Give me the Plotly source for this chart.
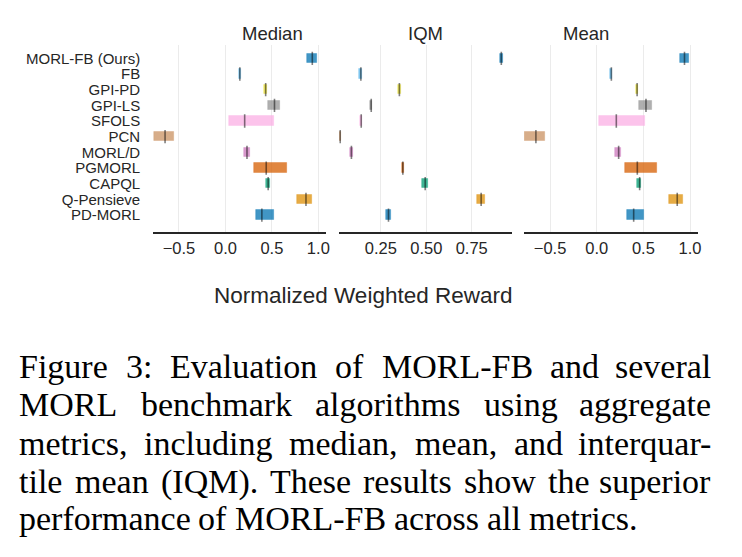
import plotly.graph_objects as go
from plotly.subplots import make_subplots

# algorithms, top to bottom
algos = ["MORL-FB (Ours)", "FB", "GPI-PD", "GPI-LS", "SFOLS", "PCN",
         "MORL/D", "PGMORL", "CAPQL", "Q-Pensieve", "PD-MORL"]
colors = ["#0173b2", "#56b4e9", "#ece133", "#949494", "#fbafe4", "#ca9161",
          "#cc78bc", "#d55e00", "#029e73", "#de8f05", "#0173b2"]

# median: point estimate and interval
median_pt = [0.935, 0.155, 0.433, 0.528, 0.207, -0.650, 0.232, 0.439, 0.460, 0.867, 0.392]
median_lo = [0.885, 0.143, 0.420, 0.456, 0.035, -0.768, 0.203, 0.310, 0.442, 0.777, 0.332]
median_hi = [0.991, 0.168, 0.450, 0.592, 0.528, -0.553, 0.268, 0.660, 0.482, 0.935, 0.520]

# IQM
iqm_pt = [0.913, 0.140, 0.352, 0.197, 0.142, 0.026, 0.088, 0.371, 0.494, 0.802, 0.292]
iqm_lo = [0.904, 0.133, 0.345, 0.193, 0.137, 0.022, 0.082, 0.365, 0.476, 0.782, 0.279]
iqm_hi = [0.922, 0.146, 0.359, 0.202, 0.148, 0.031, 0.095, 0.377, 0.512, 0.824, 0.304]

# mean
mean_pt = [0.941, 0.157, 0.433, 0.528, 0.210, -0.652, 0.235, 0.435, 0.460, 0.863, 0.396]
mean_lo = [0.891, 0.146, 0.420, 0.456, 0.029, -0.773, 0.200, 0.310, 0.438, 0.777, 0.328]
mean_hi = [0.991, 0.168, 0.446, 0.592, 0.521, -0.556, 0.264, 0.652, 0.478, 0.927, 0.513]

titles = ["Median", "IQM", "Mean"]
ticks_wide = [-0.5, 0.0, 0.5, 1.0]
ticks_wide_txt = ["\u22120.5", "0.0", "0.5", "1.0"]
ticks_iqm = [0.25, 0.50, 0.75]
ticks_iqm_txt = ["0.25", "0.50", "0.75"]

caption = [
    "Figure 3:  Evaluation of MORL-FB and several",
    "MORL benchmark algorithms using aggregate",
    "metrics, including median, mean, and interquar-",
    "tile mean (IQM). These results show the superior",
    "performance of MORL-FB across all metrics.",
]

W, H = 742, 557
SANS = "Liberation Sans, Arial, sans-serif"
SERIF = "Liberation Serif, Times New Roman, serif"
TXT = "#262626"


def rgba(h, a):
    h = h.lstrip("#")
    r, g, b = int(h[0:2], 16), int(h[2:4], 16), int(h[4:6], 16)
    return f"rgba({r},{g},{b},{a})"


# rough Times advance widths (1/1000 em) for justifying the caption
_tw = dict(zip("abcdefghijklmnopqrstuvwxyz",
               [444, 500, 444, 500, 444, 333, 500, 500, 278, 278, 500, 278, 778,
                500, 500, 500, 500, 333, 389, 278, 500, 500, 722, 500, 500, 444]))
_tw.update(zip("ABCDEFGHIJKLMNOPQRSTUVWXYZ",
               [722, 667, 667, 722, 611, 556, 722, 722, 333, 389, 722, 611, 889,
                722, 722, 556, 722, 667, 556, 611, 722, 722, 944, 722, 722, 611]))
_tw.update({" ": 250, ".": 250, ",": 250, ":": 278, "-": 333, "(": 333, ")": 333})
for d in "0123456789":
    _tw[d] = 500


def tw(s, size):
    return sum(_tw.get(c, 500) for c in s) * size / 1000


fig = make_subplots(rows=1, cols=3, shared_yaxes=True)

panels = [
    (median_lo, median_hi, median_pt),
    (iqm_lo, iqm_hi, iqm_pt),
    (mean_lo, mean_hi, mean_pt),
]
idx = list(range(len(algos)))

for c, (lo, hi, pt) in enumerate(panels, start=1):
    fig.add_trace(
        go.Bar(
            y=idx,
            x=[h - l for l, h in zip(lo, hi)],
            base=lo,
            orientation="h",
            width=0.6,
            marker=dict(color=[rgba(k, 0.75) for k in colors],
                        line=dict(color=[rgba(k, 0.3) for k in colors], width=1)),
            showlegend=False,
            hoverinfo="skip",
        ),
        row=1, col=c,
    )
    fig.add_trace(
        go.Scatter(
            x=pt, y=idx, mode="markers",
            marker=dict(symbol="line-ns", size=9.5,
                        line=dict(width=1.6, color="rgba(0,0,0,0.5)")),
            showlegend=False,
            hoverinfo="skip",
        ),
        row=1, col=c,
    )

# panel geometry (px)
doms = [(154, 328), (341, 515), (527, 702)]
ranges = [[-0.778, 1.085], [0.0205, 0.973], [-0.778, 1.088]]
tv = [ticks_wide, ticks_iqm, ticks_wide]
tt = [ticks_wide_txt, ticks_iqm_txt, ticks_wide_txt]

for i in range(3):
    fig.update_xaxes(
        domain=[doms[i][0] / W, doms[i][1] / W],
        range=ranges[i],
        tickvals=tv[i], ticktext=tt[i],
        showgrid=True, gridcolor="#ebebeb", gridwidth=1,
        zeroline=False, showline=True, linecolor="#262626", linewidth=1.8,
        ticks="", tickfont=dict(family=SANS, size=16.5, color=TXT),
        row=1, col=i + 1,
    )
    fig.add_annotation(
        x=(doms[i][0] + doms[i][1]) / 2 / W, y=1 - 33 / H,
        xref="paper", yref="paper", text=titles[i], showarrow=False,
        font=dict(family=SANS, size=18.5, color=TXT), yanchor="middle",
    )

fig.update_yaxes(
    domain=[1 - 232 / H, 1 - 45 / H],
    range=[11.08, -0.85],
    tickvals=idx, ticktext=algos,
    showgrid=False, zeroline=False, showline=False, ticks="",
    tickfont=dict(family=SANS, size=15, color=TXT),
)
fig.update_yaxes(ticklabelstandoff=12, row=1, col=1)

fig.add_annotation(
    x=365 / W, y=1 - 295 / H, xref="paper", yref="paper",
    text="Normalized Weighted Reward", showarrow=False,
    font=dict(family=SANS, size=22.5, color=TXT), yanchor="middle",
)

# caption, justified word by word
cap_size = 34
left, right = 18, 716
centers = [366, 404.5, 443, 481.5, 518]
for n, line in enumerate(caption):
    words = line.split()
    widths = [tw(w, cap_size) for w in words]
    last = n == len(caption) - 1
    if last:
        gap = tw(" ", cap_size)
    else:
        gap = (right - left - sum(widths)) / (len(words) - 1)
    x = left
    for j, w in enumerate(words):
        if not last and j == len(words) - 1:
            xa, xx = "right", right
        else:
            xa, xx = "left", x
        fig.add_annotation(
            x=xx / W, y=1 - centers[n] / H, xref="paper", yref="paper",
            text=w, showarrow=False, xanchor=xa, yanchor="middle", borderpad=0,
            font=dict(family=SERIF, size=cap_size, color="black"),
        )
        x += widths[j] + gap

fig.update_layout(
    width=W, height=H, autosize=False,
    margin=dict(l=0, r=0, t=0, b=0),
    plot_bgcolor="white", paper_bgcolor="white",
    barmode="overlay", bargap=0,
)

# page has a default 8px body margin; drop it so the figure sits at 0,0
fig.write_html("out.html", config={"displayModeBar": False},
               post_script="document.body.style.margin='0';")
